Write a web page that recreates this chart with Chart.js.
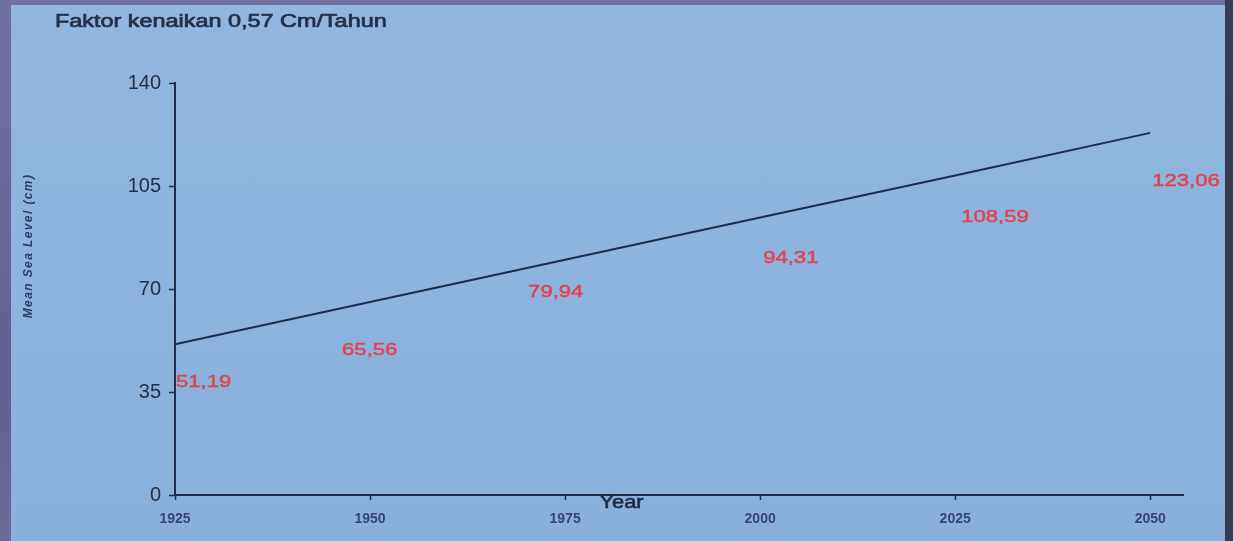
<!DOCTYPE html>
<html>
<head>
<meta charset="utf-8">
<title>Mean Sea Level</title>
<script src="https://cdn.jsdelivr.net/npm/chart.js@4/dist/chart.umd.min.js"></script>
<style>
  html, body { margin: 0; padding: 0; }
  body {
    width: 1233px; height: 541px; overflow: hidden; position: relative;
    background: linear-gradient(180deg, #6f72a0 0%, #676a98 40%, #5d6090 70%, #6a6c9a 100%);
  }
  /* light blue slide panel */
  #panel {
    position: absolute; left: 11px; top: 5px; width: 1214px; height: 536px;
    background: linear-gradient(180deg, #91b7e0 0%, #8db4de 50%, #88b0da 100%);
  }
  #edge {
    position: absolute; left: 1225px; top: 0; width: 8px; height: 541px;
    background: #383b54;
  }
  #wrap { position: absolute; left: 0; top: 0; width: 1233px; height: 541px; }
</style>
</head>
<body>
<div id="panel"></div>
<div id="edge"></div>
<div id="wrap"><canvas id="chart" width="1233" height="541"></canvas></div>
<script>
// ── Data ────────────────────────────────────────────────────────────────
const YEARS      = [1925, 1950, 1975, 2000, 2025, 2050];
const SEA_LEVEL  = [51.19, 65.56, 79.94, 94.31, 108.59, 123.06];   // cm
const Y_TICKS    = [0, 35, 70, 105, 140];
const X_TICKS    = [1925, 1950, 1975, 2000, 2025, 2050];

const TITLE      = 'Faktor kenaikan 0,57 Cm/Tahun';
const Y_TITLE    = 'Mean Sea Level (cm)';
const X_TITLE    = 'Year';

// where each red value label sits relative to its point (px)
const LABEL_OFFSETS = [[1, 38], [-28, 48], [-37, 33], [3, 41], [6, 42], [2, 48]];

const INK   = '#1f2d4c';
const RED   = '#e2434e';
const FONT  = '"Liberation Sans", Arial, sans-serif';

// fill + thin stroke in the same colour, so the text reads a bit heavier
function heavyText(ctx, str, x, y, weight) {
  ctx.lineWidth = weight;
  ctx.strokeStyle = ctx.fillStyle;
  ctx.strokeText(str, x, y);
  ctx.fillText(str, x, y);
}

// ── Text drawn on top of the chart: title, axis names, value labels ────
const textLayer = {
  id: 'textLayer',
  afterDatasetsDraw(chart) {
    const { ctx, chartArea, scales: { x, y } } = chart;
    ctx.save();
    ctx.lineJoin = 'round';

    // slide title (text is slightly wide, so stretch horizontally)
    ctx.fillStyle = '#233049';
    ctx.font = `18px ${FONT}`;
    ctx.textAlign = 'left';
    ctx.textBaseline = 'alphabetic';
    ctx.save();
    ctx.translate(55, 27);
    ctx.scale(1.3, 1);
    heavyText(ctx, TITLE, 0, 0, 0.7);
    ctx.restore();

    // y axis name
    ctx.save();
    ctx.translate(29, 246);
    ctx.rotate(-Math.PI / 2);
    ctx.font = `italic bold 12px ${FONT}`;
    ctx.letterSpacing = '1.4px';
    ctx.fillStyle = '#2a3a66';
    ctx.textAlign = 'center';
    ctx.textBaseline = 'middle';
    ctx.fillText(Y_TITLE, 0, 0);
    ctx.restore();

    // x axis name, just under the axis line
    ctx.save();
    ctx.translate(chartArea.left + (chartArea.right - chartArea.left) * 0.443, 503);
    ctx.scale(1.15, 1);
    ctx.font = `19px ${FONT}`;
    ctx.fillStyle = '#1f2a42';
    ctx.textAlign = 'center';
    ctx.textBaseline = 'middle';
    heavyText(ctx, X_TITLE, 0, 0, 0.6);
    ctx.restore();

    // red value labels
    ctx.font = `17px ${FONT}`;
    ctx.fillStyle = RED;
    ctx.textAlign = 'left';
    ctx.textBaseline = 'middle';
    YEARS.forEach((yr, i) => {
      const px = x.getPixelForValue(yr);
      const py = y.getPixelForValue(SEA_LEVEL[i]);
      const [dx, dy] = LABEL_OFFSETS[i];
      ctx.save();
      ctx.translate(px + dx, py + dy);
      ctx.scale(1.3, 1);
      heavyText(ctx, SEA_LEVEL[i].toFixed(2).replace('.', ','), 0, 0, 0.5);
      ctx.restore();
    });

    ctx.restore();
  }
};

// ── Chart ───────────────────────────────────────────────────────────────
new Chart(document.getElementById('chart'), {
  type: 'line',
  data: {
    datasets: [{
      data: YEARS.map((yr, i) => ({ x: yr, y: SEA_LEVEL[i] })),
      borderColor: '#1c2a4b',
      borderWidth: 2,
      pointRadius: 0,
      tension: 0,
      fill: false,
    }]
  },
  options: {
    responsive: false,
    animation: false,
    layout: { padding: { top: 83, right: 50, bottom: 0, left: 0 } },
    plugins: {
      legend: { display: false },
      tooltip: { enabled: false },
    },
    scales: {
      x: {
        type: 'linear',
        min: 1925,
        max: 2054.2,
        afterBuildTicks: s => { s.ticks = X_TICKS.map(v => ({ value: v })); },
        afterFit: s => { s.height = 46; },
        grid: { drawOnChartArea: false, tickLength: 5, tickColor: INK, tickWidth: 1.5 },
        border: { color: INK, width: 2 },
        ticks: {
          color: '#35457a',
          padding: 11,
          maxRotation: 0,
          callback: v => String(v),
          font: { family: FONT, size: 14, weight: 'bold' },
        },
      },
      y: {
        min: 0,
        max: 140,
        afterBuildTicks: s => { s.ticks = Y_TICKS.map(v => ({ value: v })); },
        afterFit: s => { s.width = 175; },
        grid: { drawOnChartArea: false, tickLength: 6, tickColor: INK, tickWidth: 1.5 },
        border: { color: INK, width: 2 },
        ticks: {
          color: '#252e44',
          padding: 8,
          font: { family: FONT, size: 20 },
        },
      },
    },
  },
  plugins: [textLayer],
});
</script>
</body>
</html>
